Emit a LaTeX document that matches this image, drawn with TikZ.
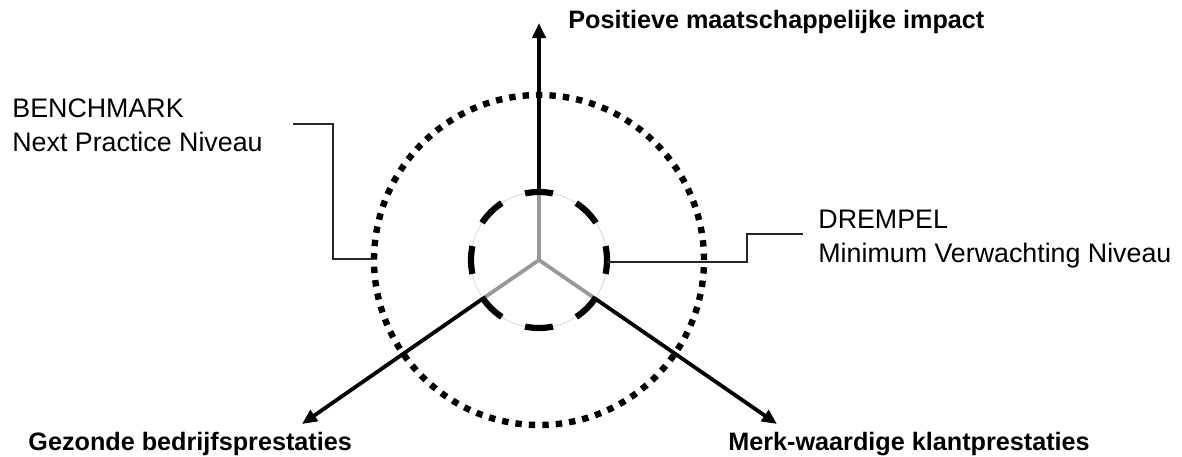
\documentclass[tikz,border=0pt]{standalone}
\usepackage{fontspec}
\setmainfont{Liberation Sans}
\usepackage{tikz}
\usetikzlibrary{arrows.meta,positioning}

\begin{document}
\begin{tikzpicture}[
    x=0.5pt, y=-0.5pt,
    axis/.style={line width=1.9pt, -{Triangle[length=7.5pt, width=6.5pt]}},
    core/.style={line width=1.9pt, black!40},
    leader/.style={line width=0.6pt, black!85},
    axislabel/.style={anchor=base west, inner sep=0pt, font=\fontsize{12.6}{15}\selectfont\bfseries},
    levellabel/.style={anchor=base west, inner sep=0pt, font=\fontsize{13.4}{16}\selectfont}
]
    \useasboundingbox (0,0) rectangle (1182,456);

    % centre and axis ends
    \coordinate (c) at (539,260);
    \coordinate (topin) at (539,192);
    \coordinate (leftin) at (483,298.5);
    \coordinate (rightin) at (595,298.5);
    \coordinate (toptip) at (539,23);
    \coordinate (lefttip) at (302,424);
    \coordinate (righttip) at (777,424);

    % labels
    \node[axislabel] (impact) at (568,28) {Positieve maatschappelijke impact};
    \node[axislabel] (gezond) at (28,450) {Gezonde bedrijfsprestaties};
    \node[axislabel] (merk) at (728,450) {Merk-waardige klantprestaties};
    \node[levellabel] (benchtitle) at (12,117) {BENCHMARK};
    \node[levellabel] (benchtext) at (12,151) {Next Practice Niveau};
    \node[levellabel] (drempeltitle) at (818,228) {DREMPEL};
    \node[levellabel] (drempeltext) at (818,262) {Minimum Verwachting Niveau};

    % axes
    \draw[axis] (topin) -- (toptip);
    \draw[axis] (leftin) -- (lefttip);
    \draw[axis] (rightin) -- (righttip);
    \draw[core] (c) -- (topin);
    \draw[core] (c) -- (leftin);
    \draw[core] (c) -- (rightin);

    % levels
    \draw[black!20, line width=0.3pt] (c) circle[radius=34pt];
    \draw[line width=3.1pt, dash pattern=on 14pt off 12.704pt, dash phase=7pt] (c) circle[radius=34pt];
    \draw[line width=3.2pt, dash pattern=on 3.2pt off 3.532pt] (c) circle[radius=82.5pt];

    % leader lines
    \coordinate (benchstart) at (293,124);
    \coordinate (benchend) at (374,259);
    \coordinate (drempelstart) at (607,262);
    \coordinate (drempelend) at (803,234);
    \draw[leader] (benchstart) -| (333,259) -- (benchend);
    \draw[leader] (drempelstart) -| (747,234) -- (drempelend);
\end{tikzpicture}
\end{document}
